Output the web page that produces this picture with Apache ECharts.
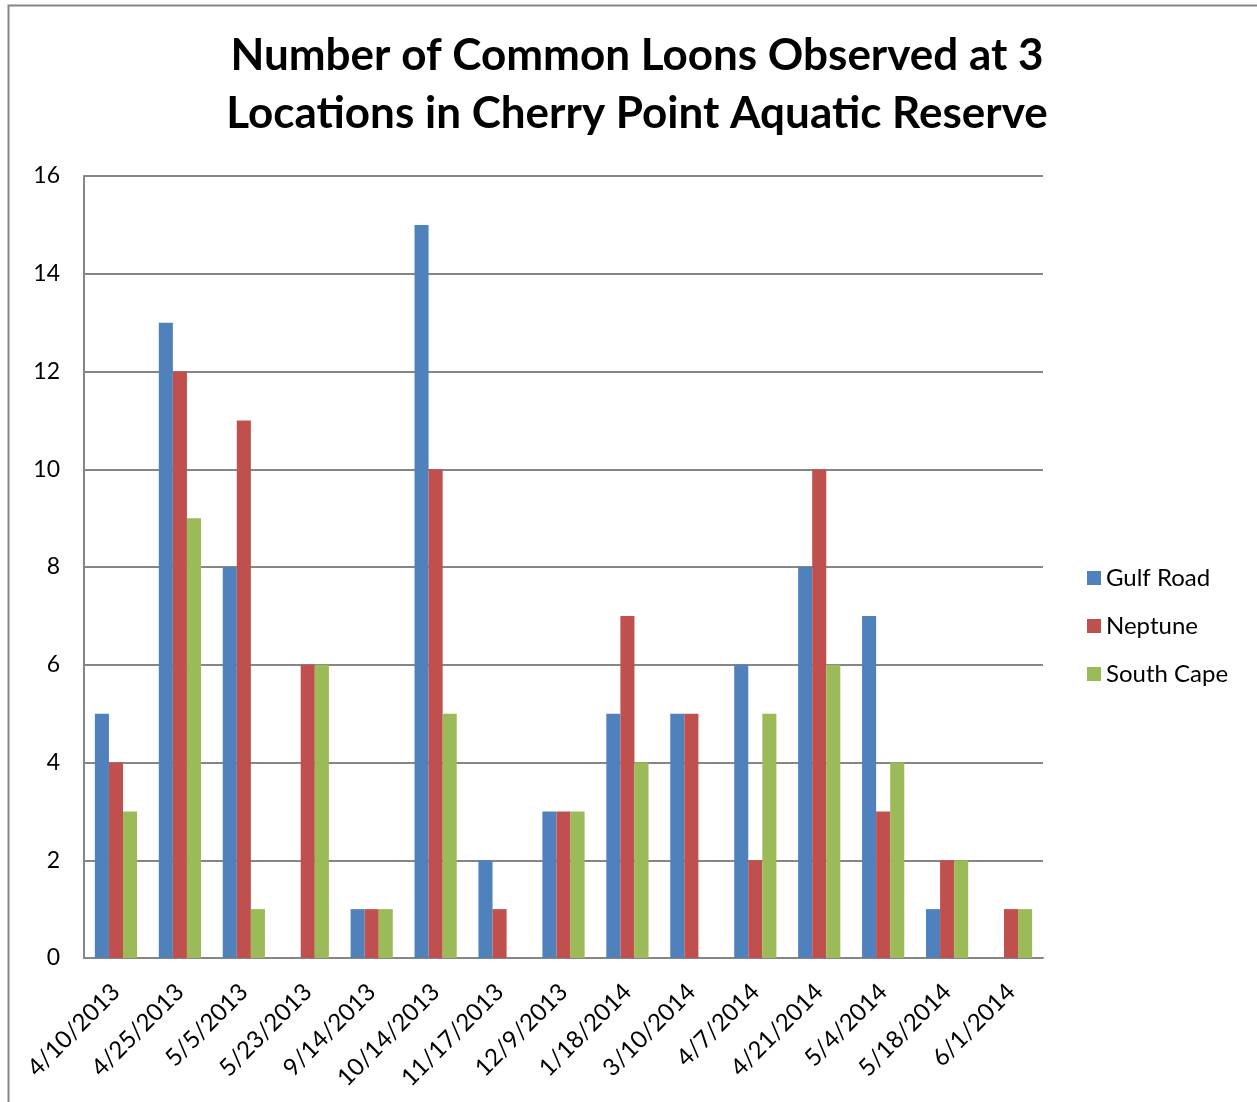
<!DOCTYPE html>
<html>
<head>
<meta charset="utf-8">
<script src="https://cdn.jsdelivr.net/npm/echarts@6/dist/echarts.min.js"></script>
<style>
  html, body { margin: 0; padding: 0; background: #fff; }
  #chart { width: 1257px; height: 1102px; }
</style>
</head>
<body>
<div id="chart"></div>
<script>
// survey dates
const dates = [
  '4/10/2013', '4/25/2013', '5/5/2013', '5/23/2013', '9/14/2013',
  '10/14/2013', '11/17/2013', '12/9/2013', '1/18/2014', '3/10/2014',
  '4/7/2014', '4/21/2014', '5/4/2014', '5/18/2014', '6/1/2014',
];
// loon counts per location
const gulfRoad = [5, 13, 8, 0, 1, 15, 2, 3, 5, 5, 6, 8, 7, 1, 0];
const neptune = [4, 12, 11, 6, 1, 10, 1, 3, 7, 5, 2, 10, 3, 2, 1];
const southCape = [3, 9, 1, 6, 1, 5, 0, 3, 4, 0, 5, 6, 4, 2, 1];
const yTicks = [0, 2, 4, 6, 8, 10, 12, 14, 16];

const font = 'Lato, "Open Sans", sans-serif';
const chart = echarts.init(document.getElementById('chart'), null, { renderer: 'canvas' });

const bar = (name, data, color) => ({
  name,
  type: 'bar',
  data,
  barGap: '0%',
  barCategoryGap: '34%',
  itemStyle: { color },
  emphasis: { disabled: true },
});

chart.setOption({
  animation: false,
  textStyle: { fontFamily: font },
  graphic: [{
    type: 'rect',
    shape: { x: 8.5, y: 5.5, width: 1400, height: 1200 },
    style: { fill: 'none', stroke: '#868686', lineWidth: 2 },
    silent: true,
  }],
  title: {
    text: 'Number of Common Loons Observed at 3\nLocations in Cherry Point Aquatic Reserve',
    left: 632,
    top: 22,
    textAlign: 'center',
    textStyle: { fontFamily: font, fontSize: 44, fontWeight: 'bold', color: '#000', lineHeight: 58 },
  },
  legend: {
    orient: 'vertical',
    left: 1082,
    top: 561,
    itemWidth: 14,
    itemHeight: 14,
    itemGap: 24,
    icon: 'rect',
    textStyle: { fontFamily: font, fontSize: 24, color: '#000' },
    selectedMode: false,
  },
  grid: { left: 84, right: 214, top: 176, bottom: 144, containLabel: false },
  xAxis: {
    type: 'category',
    data: dates,
    axisLine: { lineStyle: { color: '#868686', width: 2 } },
    axisTick: { show: false },
    axisLabel: {
      rotate: 45,
      interval: 0,
      margin: 30,
      fontFamily: font,
      fontSize: 24,
      color: '#000',
    },
  },
  yAxis: {
    type: 'value',
    min: yTicks[0],
    max: yTicks[yTicks.length - 1],
    interval: 2,
    axisLine: { show: true, lineStyle: { color: '#868686', width: 2 } },
    axisTick: { show: false },
    splitLine: { lineStyle: { color: '#868686', width: 2 } },
    axisLabel: { margin: 24, fontFamily: font, fontSize: 23, color: '#000' },
  },
  series: [
    bar('Gulf Road', gulfRoad, '#4F81BD'),
    bar('Neptune', neptune, '#C0504D'),
    bar('South Cape', southCape, '#9BBB59'),
  ],
});
</script>
</body>
</html>
